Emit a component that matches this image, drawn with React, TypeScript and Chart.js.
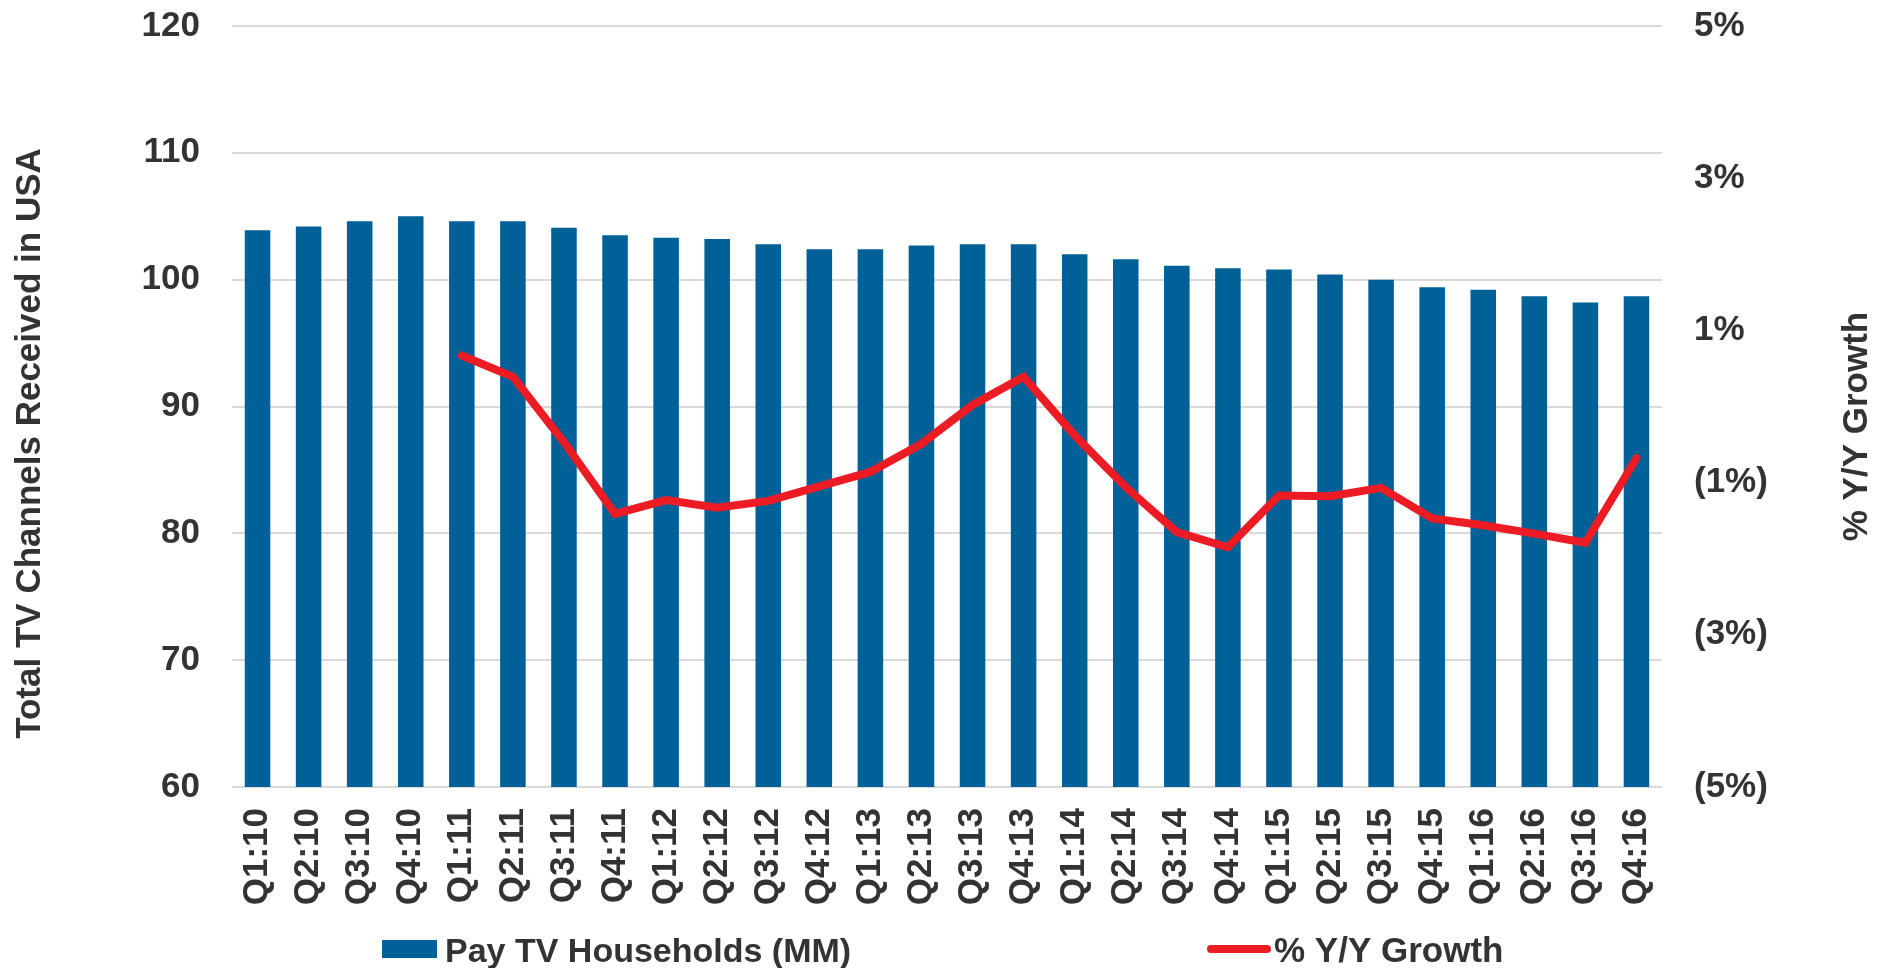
import React, { useEffect, useRef } from "react";
import { Chart, registerables } from "chart.js";

Chart.register(...registerables);

const categories = [
  "Q1:10", "Q2:10", "Q3:10", "Q4:10",
  "Q1:11", "Q2:11", "Q3:11", "Q4:11",
  "Q1:12", "Q2:12", "Q3:12", "Q4:12",
  "Q1:13", "Q2:13", "Q3:13", "Q4:13",
  "Q1:14", "Q2:14", "Q3:14", "Q4:14",
  "Q1:15", "Q2:15", "Q3:15", "Q4:15",
  "Q1:16", "Q2:16", "Q3:16", "Q4:16",
];

const payTvHouseholds = [
  103.9, 104.2, 104.6, 105.0,
  104.6, 104.6, 104.1, 103.5,
  103.3, 103.2, 102.8, 102.4,
  102.4, 102.7, 102.8, 102.8,
  102.0, 101.6, 101.1, 100.9,
  100.8, 100.4, 100.0, 99.4,
  99.2, 98.7, 98.2, 98.7,
];

const yoyGrowth: (number | null)[] = [
  null, null, null, null,
  0.67, 0.39, -0.47, -1.41,
  -1.23, -1.33, -1.24, -1.05,
  -0.86, -0.49, 0.02, 0.39,
  -0.38, -1.06, -1.65, -1.85,
  -1.17, -1.18, -1.07, -1.47,
  -1.56, -1.67, -1.79, -0.68,
];

const leftTitle = "Total TV Channels Received in USA";
const rightTitle = "% Y/Y Growth";
const barLabel = "Pay TV Households (MM)";
const lineLabel = "% Y/Y Growth";

const BAR_COLOR = "#006098";
const LINE_COLOR = "#ED1C24";
const TEXT_COLOR = "#333333";
const GRID_COLOR = "#dadada";
const FONT_FAMILY = "'Liberation Sans', Arial, Helvetica, sans-serif";

const W = 1888;
const H = 968;
const TOP = 26;
const PLOT_H = 761;

const decorPlugin = {
  id: "decor",
  afterDraw(chart: any) {
    const ctx = chart.ctx;
    const area = chart.chartArea;
    const midY = (area.top + area.bottom) / 2;
    ctx.save();
    ctx.fillStyle = TEXT_COLOR;
    ctx.font = `bold 35px ${FONT_FAMILY}`;
    ctx.textAlign = "center";
    ctx.textBaseline = "middle";
    // left axis title
    ctx.save();
    ctx.translate(30, midY + 37);
    ctx.rotate(-Math.PI / 2);
    ctx.fillText(leftTitle, 0, 0);
    ctx.restore();
    // right axis title
    ctx.save();
    ctx.translate(W - 31, midY + 20);
    ctx.rotate(-Math.PI / 2);
    ctx.fillText(rightTitle, 0, 0);
    ctx.restore();

    // legend
    const ds = chart.data.datasets;
    const legendY = 949;
    ctx.textAlign = "left";
    ctx.textBaseline = "alphabetic";
    ctx.fillStyle = ds[1].backgroundColor;
    ctx.fillRect(382, legendY - 9, 55, 18);
    ctx.fillStyle = TEXT_COLOR;
    ctx.font = `bold 34px ${FONT_FAMILY}`;
    ctx.fillText(ds[1].label, 445, legendY + 12.5);
    ctx.strokeStyle = ds[0].borderColor;
    ctx.lineWidth = 8;
    ctx.lineCap = "round";
    ctx.beginPath();
    ctx.moveTo(1211, legendY);
    ctx.lineTo(1267, legendY);
    ctx.stroke();
    ctx.font = `bold 35px ${FONT_FAMILY}`;
    ctx.fillText(ds[0].label, 1274, legendY + 12.5);
    ctx.restore();
  },
};

export default function App() {
  const ref = useRef<HTMLCanvasElement>(null);

  useEffect(() => {
    document.body.style.margin = "0";
    document.body.style.overflow = "hidden";
    const canvas = ref.current;
    if (!canvas) return;
    const tickFont = { family: FONT_FAMILY, size: 35, weight: "bold" as const };
    const fixV = (width: number) => (scale: any) => {
      scale.width = width;
      scale.paddingTop = TOP;
      scale.paddingBottom = 0;
    };
    const chart = new Chart(canvas, {
      type: "bar",
      data: {
        labels: categories,
        datasets: [
          {
            type: "line",
            label: lineLabel,
            data: yoyGrowth,
            yAxisID: "y1",
            borderColor: LINE_COLOR,
            backgroundColor: LINE_COLOR,
            borderWidth: 8,
            pointRadius: 0,
            pointHoverRadius: 0,
            tension: 0,
            spanGaps: false,
            borderCapStyle: "round",
            order: 0,
          } as any,
          {
            type: "bar",
            label: barLabel,
            data: payTvHouseholds,
            yAxisID: "y",
            backgroundColor: BAR_COLOR,
            borderWidth: 0,
            barPercentage: 0.5,
            categoryPercentage: 1,
            order: 1,
          } as any,
        ],
      },
      options: {
        responsive: false,
        animation: false,
        devicePixelRatio: 1,
        layout: { padding: { top: TOP, left: 0, right: 0, bottom: 0 } },
        plugins: {
          legend: { display: false },
          tooltip: { enabled: false },
          title: { display: false },
        },
        scales: {
          x: {
            type: "category",
            offset: true,
            grid: { display: false, drawTicks: false },
            border: { display: false },
            ticks: {
              font: tickFont,
              color: TEXT_COLOR,
              minRotation: 90,
              maxRotation: 90,
              autoSkip: false,
              padding: 21,
            },
            afterFit: (scale: any) => {
              scale.height = H - TOP - PLOT_H;
              scale.paddingLeft = 0;
              scale.paddingRight = 0;
            },
          },
          y: {
            type: "linear",
            position: "left",
            min: 60,
            max: 120,
            grid: { color: GRID_COLOR, lineWidth: 2, drawTicks: false },
            border: { display: false },
            ticks: {
              stepSize: 10,
              font: tickFont,
              color: TEXT_COLOR,
              padding: 32,
            },
            afterFit: fixV(232),
          },
          y1: {
            type: "linear",
            position: "right",
            min: -5,
            max: 5,
            grid: { display: false, drawTicks: false },
            border: { display: false },
            ticks: {
              stepSize: 2,
              font: tickFont,
              color: TEXT_COLOR,
              padding: 32,
              callback: (v: any) => (v < 0 ? `(${-v}%)` : `${v}%`),
            },
            afterFit: fixV(226),
          },
        },
      },
      plugins: [decorPlugin],
    });
    return () => chart.destroy();
  }, []);

  return (
    <div style={{ position: "fixed", left: 0, top: 0, width: W, height: H, background: "#fff" }}>
      <canvas ref={ref} width={W} height={H} style={{ width: W, height: H, display: "block" }} />
    </div>
  );
}
